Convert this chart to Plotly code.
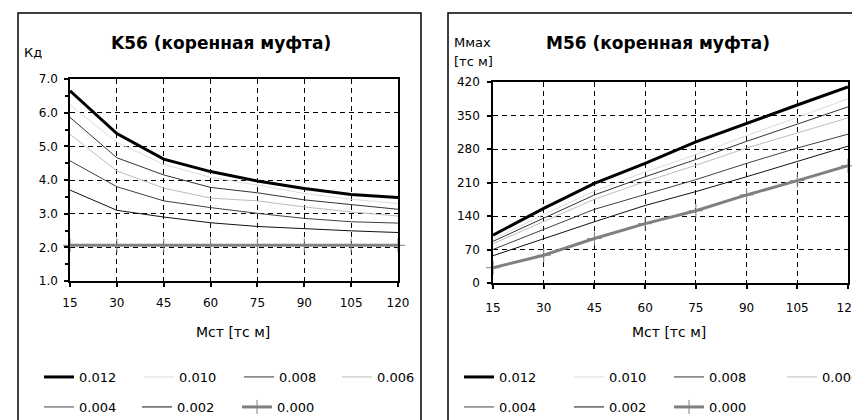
import plotly.graph_objects as go

# page is offset by the 8px default body margin
OFF = 8
W, H = 860 - OFF, 420 - OFF

# ---------------- data ----------------
x_vals = [15, 30, 45, 60, 75, 90, 105, 120]
series_names = ["0.012", "0.010", "0.008", "0.006", "0.004", "0.002", "0.000"]

# K56 (Kд) values
k_012 = [6.65, 5.38, 4.62, 4.25, 3.97, 3.75, 3.57, 3.48]
k_010 = [6.23, 5.12, 4.47, 4.08, 3.85, 3.60, 3.43, 3.30]
k_008 = [5.86, 4.66, 4.15, 3.78, 3.62, 3.41, 3.27, 3.13]
k_006 = [5.36, 4.27, 3.76, 3.46, 3.38, 3.20, 3.05, 2.93]
k_004 = [4.57, 3.80, 3.38, 3.18, 3.01, 2.86, 2.76, 2.72]
k_002 = [3.70, 3.10, 2.90, 2.73, 2.62, 2.55, 2.49, 2.44]
k_000 = [2.06, 2.06, 2.06, 2.06, 2.06, 2.06, 2.06, 2.06]

# M56 (Mmax) values
m_012 = [100, 156, 208, 250, 295, 334, 372, 410]
m_010 = [92, 143, 192, 232, 268, 308, 346, 385]
m_008 = [87, 136, 184, 222, 258, 296, 332, 368]
m_006 = [82, 128, 175, 212, 246, 282, 313, 345]
m_004 = [70, 112, 154, 185, 216, 250, 282, 311]
m_002 = [57, 93, 128, 162, 191, 222, 254, 286]
m_000 = [32, 58, 93, 124, 151, 184, 214, 245]

k_ticks = [1, 2, 3, 4, 5, 6, 7]
m_ticks = [0, 70, 140, 210, 280, 350, 420]

k_series = [k_012, k_010, k_008, k_006, k_004, k_002, k_000]
m_series = [m_012, m_010, m_008, m_006, m_004, m_002, m_000]

# ---------------- styles ----------------
colors = ["#000000", "#dcdcdc", "#333333", "#bdbdbd", "#404040", "#111111", "#808080"]
widths = [3, 1, 1, 1, 1, 1, 3]
FONT = "DejaVu Sans, sans-serif"


def px(xp):
    return (xp - OFF) / W


def py(yp):
    return 1 - (yp - OFF) / H


fig = go.Figure()

left_legends = ["legend", "legend", "legend", "legend", "legend2", "legend2", "legend2"]
right_legends = ["legend3", "legend3", "legend3", "legend3", "legend4", "legend4", "legend4"]
left_lw = [55, 55, 53, 40, 53, 55, 40]
right_lw = [65, 55, 68, 35, 65, 55, 40]

for series, legs, lws, xa, ya in [
    (k_series, left_legends, left_lw, "x", "y"),
    (m_series, right_legends, right_lw, "x2", "y2"),
]:
    for i, name in enumerate(series_names):
        is_zero = name == "0.000"
        mode = "lines+markers" if is_zero else "lines"
        marker = dict(symbol="cross-thin", size=10,
                      line=dict(color=colors[i], width=1)) if is_zero else None
        fig.add_trace(go.Scatter(
            x=x_vals, y=series[i], name=name, mode=mode,
            line=dict(color=colors[i], width=widths[i]),
            marker=marker, cliponaxis=False,
            xaxis=xa, yaxis=ya, legend=legs[i], legendwidth=lws[i],
        ))

axis_common = dict(
    showline=True, linecolor="black", linewidth=1.5, mirror=True,
    showgrid=True, gridcolor="black", gridwidth=1, griddash="5px,4px",
    zeroline=False, ticks="outside", ticklen=4, tickcolor="black", tickwidth=1.5,
    tickfont=dict(family=FONT, size=12, color="black"),
    automargin=False,
)

fig.update_layout(
    width=W, height=H,
    margin=dict(l=0, r=0, t=0, b=0, autoexpand=False),
    paper_bgcolor="white", plot_bgcolor="white",
    showlegend=True,
    font=dict(family=FONT, size=12, color="black"),
    xaxis=dict(axis_common, domain=[px(70), px(398)], range=[15, 120],
               tickvals=x_vals, anchor="y", ticklabelstandoff=6),
    yaxis=dict(axis_common, domain=[py(281), py(79)], range=[1, 7],
               tickvals=k_ticks, tickformat=".1f", anchor="x", ticklabelstandoff=4,
               minor=dict(dtick=0.5, ticks="outside", ticklen=3, tickcolor="black", showgrid=False)),
    xaxis2=dict(axis_common, domain=[px(493), px(848)], range=[15, 120],
                tickvals=x_vals, anchor="y2", ticklabelstandoff=9),
    yaxis2=dict(axis_common, domain=[py(283), py(82)], range=[0, 420],
                tickvals=m_ticks, anchor="x2", ticklabelstandoff=5),
)

leg_common = dict(orientation="h", xanchor="left", yanchor="middle",
                  bgcolor="rgba(0,0,0,0)", borderwidth=0,
                  font=dict(family=FONT, size=13, color="black"),
                  entrywidthmode="pixels", tracegroupgap=0)
fig.update_layout(
    legend=dict(leg_common, x=px(39), y=py(377)),
    legend2=dict(leg_common, x=px(39), y=py(407)),
    legend3=dict(leg_common, x=px(459), y=py(377)),
    legend4=dict(leg_common, x=px(459), y=py(407)),
)

# panel frames
fig.add_shape(type="rect", xref="paper", yref="paper",
              x0=px(18), x1=px(421), y0=py(440), y1=py(13),
              line=dict(color="black", width=1.5))
fig.add_shape(type="rect", xref="paper", yref="paper",
              x0=px(448), x1=px(880), y0=py(440), y1=py(13),
              line=dict(color="black", width=1.5))

ann = [
    dict(text="<b>K56 (коренная муфта)</b>", x=px(221), y=py(43), size=17, anchor="center"),
    dict(text="<b>M56 (коренная муфта)</b>", x=px(658), y=py(43), size=17, anchor="center"),
    dict(text="Кд", x=px(22), y=py(53), size=13, anchor="left"),
    dict(text="Ммах", x=px(452), y=py(43), size=13, anchor="left"),
    dict(text="[тс м]", x=px(452), y=py(62), size=13, anchor="left"),
    dict(text="Мст [тс м]", x=px(233), y=py(332), size=14, anchor="center"),
    dict(text="Мст [тс м]", x=px(669), y=py(332), size=14, anchor="center"),
]
for a in ann:
    fig.add_annotation(text=a["text"], x=a["x"], y=a["y"], xref="paper", yref="paper",
                       xanchor=a["anchor"], yanchor="middle", showarrow=False,
                       font=dict(family=FONT, size=a["size"], color="black"))

fig.write_html("out.html")
